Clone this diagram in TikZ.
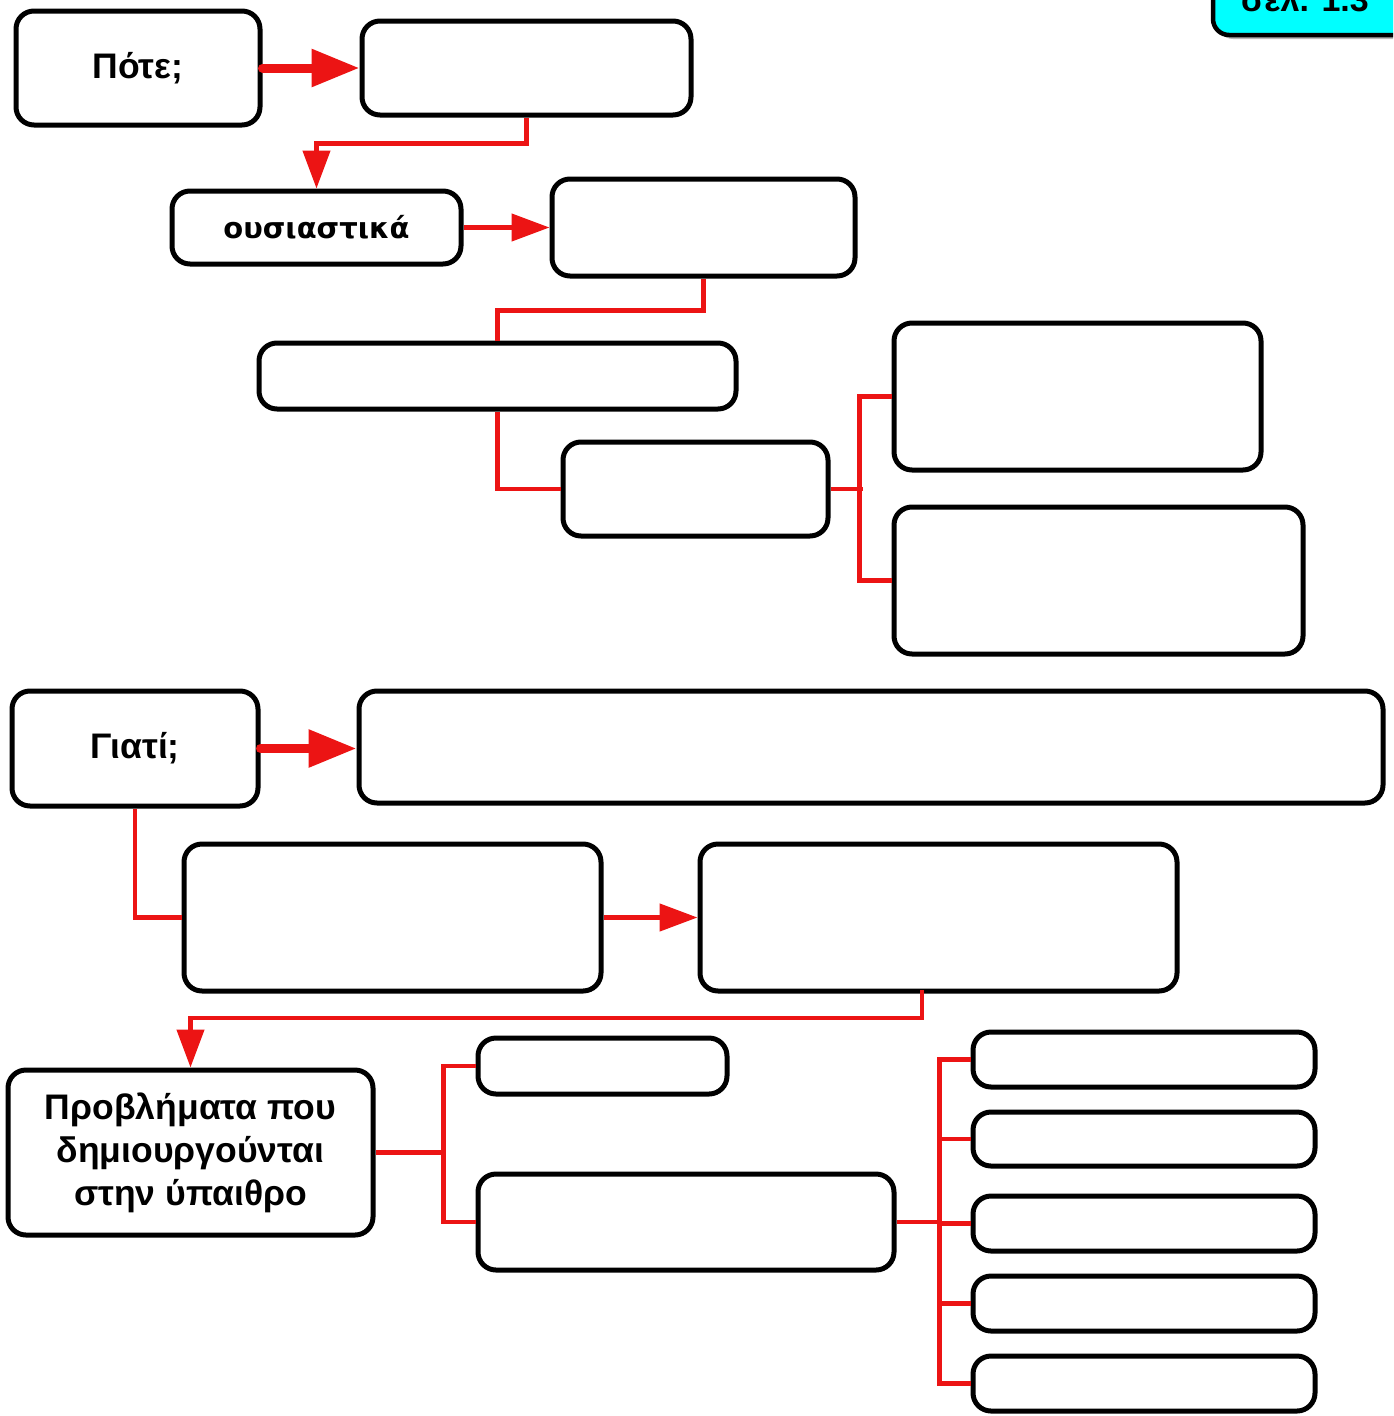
\documentclass[tikz,border=0pt]{standalone}
\usepackage{fontspec}
\setmainfont{Liberation Sans}
\newfontfamily\wideface{DejaVu Sans}
\usetikzlibrary{arrows.meta}
\definecolor{lred}{RGB}{236,20,20}
\definecolor{tagcyan}{RGB}{0,255,255}
\newcommand{\bx}[6]{%
  \node[boxst, minimum width={#4-#2-4}, minimum height={#5-#3-4}] (#1) at ({(#2+#4)/2},{(#3+#5)/2}) {#6};}
\tikzset{
  boxst/.style={draw=black, line width=5pt, rounded corners=18pt, fill=white, inner sep=0pt,
    align=center, font=\bfseries\fontsize{35.5}{43}\selectfont},
  redln/.style={draw=lred, line width=4.5pt},
  redarr/.style={redln, -{Triangle[length=38pt,width=27pt]}},
  thickarr/.style={draw=lred, line width=9pt, line cap=round, -{Triangle[length=48pt,width=36pt]}},
}
\begin{document}
\begin{tikzpicture}[x=1pt,y=-1pt]
\useasboundingbox (0,0) rectangle (1393,1416);
\begin{scope}
\clip (0,0) rectangle (1393,1416);
% page tag (clipped at top)
\fill[gray!55] (1217,-40) [rounded corners=16pt] rectangle (1420,39);
\draw[fill=tagcyan, line width=4.5pt, rounded corners=16pt] (1213,-40) rectangle (1420,35);
\node[anchor=base, inner sep=0pt, font=\bfseries\fontsize{34}{40}\selectfont] (tag) at (1305,11) {σελ. 1.3};
\end{scope}
% upper part
\bx{pote}{14}{9}{262}{127}{Πότε;}
\bx{A}{360}{19}{693}{117}{}
\bx{ous}{170}{189}{463}{266}{\wideface\bfseries\fontsize{29}{35}\selectfont ουσιαστικά}
\bx{B}{550}{177}{857}{278}{}
\bx{C}{257}{341}{738}{411}{}
\bx{D}{561}{440}{830}{538}{}
\bx{E}{892}{321}{1263}{472}{}
\bx{F}{892}{505}{1305}{656}{}
\draw[thickarr] (pote.east) -- (pote.east -| A.west);
\draw[redarr] (A.south) -- ++(0,26) -| (ous.north);
\draw[redarr] (ous.east) -- (ous.east -| B.west);
\draw[redln] (B.south) -- ++(0,32) -| (C.north);
\draw[redln] (C.south) |- (D.west);
\draw[redln] (D.east) -- ++(32,0);
\draw[redln] (E.west) -- ++(-32,0) |- (F.west);
% lower part
\bx{gia}{10}{689}{260}{808}{Γιατί;}
\bx{G}{357}{689}{1385}{805}{}
\bx{H}{182}{842}{603}{993}{}
\bx{I}{698}{842}{1179}{993}{}
\bx{prob}{6}{1068}{375}{1237}{Προβλήματα που\\δημιουργούνται\\στην ύπαιθρο}
\bx{J}{476}{1036}{729}{1096}{}
\bx{K}{476}{1172}{896}{1272}{}
\bx{L1}{971}{1030}{1317}{1089}{}
\bx{L2}{971}{1110}{1317}{1168}{}
\bx{L3}{971}{1194}{1317}{1253}{}
\bx{L4}{971}{1274}{1317}{1333}{}
\bx{L5}{971}{1354}{1317}{1413}{}
\coordinate (iout) at (922,990);
\draw[thickarr] (gia.east) -- (gia.east -| G.west);
\draw[redln] (gia.south) |- (H.west);
\draw[redarr] (H.east) -- (H.east -| I.west);
\draw[redarr] (iout) -- (922,1018) -| (prob.north);
\draw[redln] (prob.east) -- ++(69,0);
\draw[redln] (J.west) -- ++(-32,0) |- (K.west);
\draw[redln] (K.east) -- ++(44,0);
\draw[redln] (L1.west) -- ++(-31,0) |- (L5.west);
\draw[redln] (L2.west) -- ++(-31,0);
\draw[redln] (L3.west) -- ++(-31,0);
\draw[redln] (L4.west) -- ++(-31,0);
\end{tikzpicture}
\end{document}
